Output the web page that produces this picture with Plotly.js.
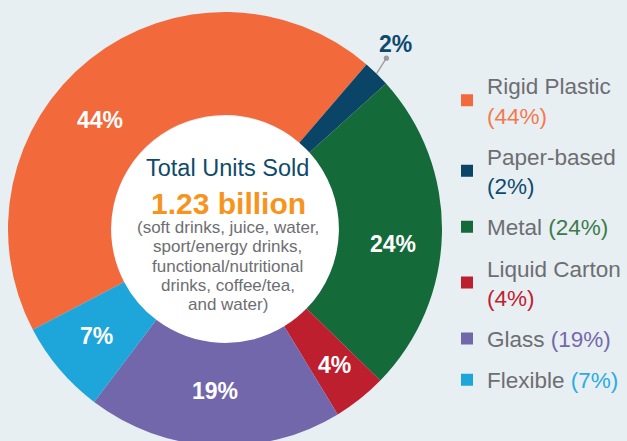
<!DOCTYPE html>
<html>
<head>
<meta charset="utf-8">
<script src="https://cdn.plot.ly/plotly-3.0.1.min.js"></script>
<style>
  html, body { margin: 0; padding: 0; background: #e8eff3; overflow: hidden; }
  #chart { width: 627px; height: 447px; }
</style>
</head>
<body>
<div id="chart"></div>
<script>
// ---- data ----
const categories = ['Rigid Plastic', 'Paper-based', 'Metal', 'Liquid Carton', 'Glass', 'Flexible'];
const values = [44, 2, 24, 4, 19, 7];
const sliceColors = ['#f2693b', '#0a4467', '#146a39', '#be1f2e', '#7367ab', '#1ea6db'];
const legendTextColors = ['#f47a4e', '#0d4a6e', '#3b7c4a', '#c0202f', '#7468aa', '#2aace2'];
const legendWrap = [true, true, false, true, false, false];
const centerTitle = 'Total Units Sold';
const centerValue = '1.23 billion';
const centerNote = ['(soft drinks, juice, water,', 'sport/energy drinks,', 'functional/nutritional', 'drinks, coffee/tea,', 'and water)'];

// ---- layout geometry (not data) ----
const W = 627, H = 447;
const cx = 225, cy = 229, R = 217;
const holeFrac = 0.525;
const rotation = -117.7;
const FONT = 'Liberation Sans, Arial, sans-serif';
const labelNudge = [[-22, 20], [0, 0], [3, 12], [6, 7], [-2, -3], [-2, 0]]; // px offsets of inside labels
const total = values.reduce((a, b) => a + b, 0);
const px = x => x / W;
const py = y => 1 - y / H;

const pctText = values.map(v => v + '%');

const traces = [{
  type: 'pie',
  labels: categories,
  values: values,
  textinfo: 'none',
  sort: false,
  direction: 'clockwise',
  rotation: rotation,
  hole: holeFrac,
  marker: { colors: sliceColors, line: { width: 0 } },
  domain: { x: [px(cx - R), px(cx + R)], y: [py(cy + R), py(cy - R)] },
  showlegend: false,
  hoverinfo: 'none'
}];

categories.forEach((c, i) => {
  const pct = '<span style="color:' + legendTextColors[i] + '">(' + values[i] + '%)</span>';
  traces.push({
    type: 'scatter', mode: 'markers',
    x: [null], y: [null],
    name: c + (legendWrap[i] ? '<br>' : ' ') + pct,
    legendgroup: 'g' + i,
    marker: { symbol: 'square', size: 12, color: sliceColors[i] },
    showlegend: true, hoverinfo: 'none'
  });
});

const annotations = [];
// slice percentage labels, positioned from the cumulative values
let cum = 0;
const rMid = R * (1 + holeFrac) / 2;
values.forEach((v, i) => {
  const a = (rotation + (cum + v / 2) / total * 360) * Math.PI / 180;
  cum += v;
  const sx = Math.sin(a), sy = -Math.cos(a);
  if (i === 1) {
    // small slice: outside label with leader line
    const ex = cx + R * sx, ey = cy + R * sy;
    annotations.push({
      xref: 'paper', yref: 'paper', x: px(ex), y: py(ey),
      ax: 19, ay: -30,
      text: '<b>' + pctText[i] + '</b>',
      font: { family: FONT, size: 23, color: '#0d4a6e' },
      showarrow: true, arrowside: 'start', startarrowhead: 6, startarrowsize: 1,
      arrowcolor: '#9a9a9a', arrowwidth: 1.3, standoff: 0, startstandoff: 0
    });
  } else {
    const lx = cx + rMid * sx + labelNudge[i][0];
    const ly = cy + rMid * sy + labelNudge[i][1];
    annotations.push({
      xref: 'paper', yref: 'paper', x: px(lx), y: py(ly),
      xanchor: 'center', yanchor: 'middle',
      text: '<b>' + pctText[i] + '</b>', showarrow: false,
      font: { family: FONT, size: 23, color: '#ffffff' }
    });
  }
});

annotations.push({
  xref: 'paper', yref: 'paper', x: px(227), y: py(168),
  xanchor: 'center', yanchor: 'middle',
  text: centerTitle, showarrow: false,
  font: { family: FONT, size: 23.5, color: '#0e4a6c' }
}, {
  xref: 'paper', yref: 'paper', x: px(228), y: py(203),
  xanchor: 'center', yanchor: 'middle',
  text: '<b>' + centerValue + '</b>', showarrow: false,
  font: { family: FONT, size: 30, color: '#f7941d' }
});
const noteY = [227, 246.5, 266, 285, 304];
centerNote.forEach((t, i) => annotations.push({
  xref: 'paper', yref: 'paper', x: px(227.5), y: py(noteY[i]),
  xanchor: 'center', yanchor: 'middle',
  text: t, showarrow: false,
  font: { family: FONT, size: 17, color: '#6d6e71' }
}));

const hcx = 225.5, hcy = 230.5, hr = 114.5;
const layout = {
  width: W, height: H,
  margin: { l: 0, r: 0, t: 0, b: 0, autoexpand: false },
  paper_bgcolor: '#e8eff3',
  plot_bgcolor: 'rgba(0,0,0,0)',
  xaxis: { visible: false, range: [0, 1] },
  yaxis: { visible: false, range: [0, 1] },
  showlegend: true,
  legend: {
    x: px(447), y: py(64.5), xanchor: 'left', yanchor: 'top',
    bgcolor: 'rgba(0,0,0,0)', borderwidth: 0,
    font: { family: FONT, size: 22.5, color: '#6d6e71' },
    tracegroupgap: 9,
    traceorder: 'grouped',
    itemclick: false, itemdoubleclick: false
  },
  shapes: [{
    type: 'circle', xref: 'paper', yref: 'paper', layer: 'below',
    x0: px(hcx - hr), x1: px(hcx + hr), y0: py(hcy + hr), y1: py(hcy - hr),
    fillcolor: '#ffffff', line: { width: 0 }
  }],
  annotations: annotations
};

Plotly.newPlot('chart', traces, layout, { displayModeBar: false, staticPlot: true });
</script>
</body>
</html>
